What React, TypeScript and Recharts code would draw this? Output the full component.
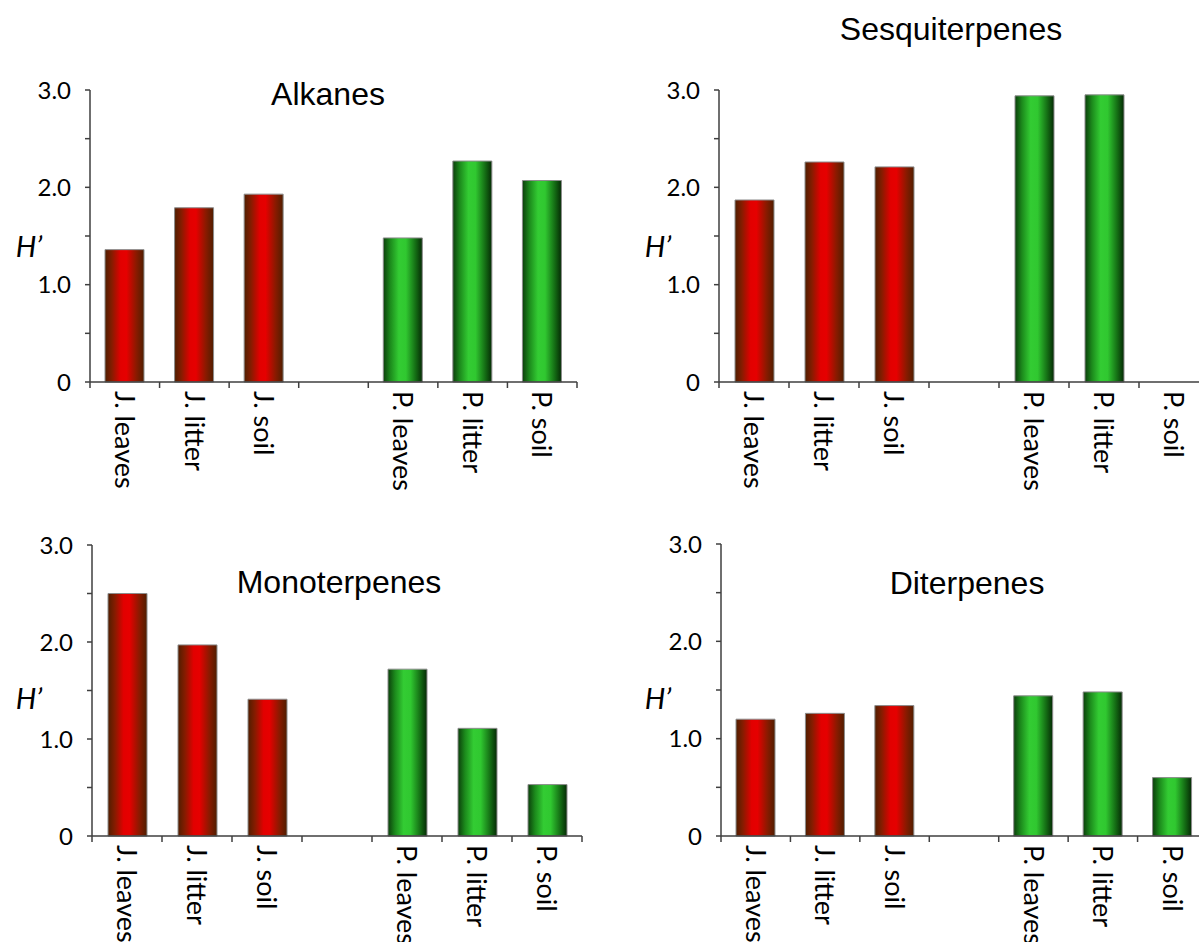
import React from "react";
import { BarChart, Bar, XAxis, YAxis, Cell } from "recharts";

// Categories along the x axis; the empty slot separates the two species groups.
const categories = ["J. leaves", "J. litter", "J. soil", "", "P. leaves", "P. litter", "P. soil"];
const groups = ["J", "J", "J", "", "P", "P", "P"];

// Shannon diversity (H') per compound class
const alkanes = [1.36, 1.79, 1.93, null, 1.48, 2.27, 2.07];
const sesquiterpenes = [1.87, 2.26, 2.21, null, 2.94, 2.95, 0];
const monoterpenes = [2.5, 1.97, 1.41, null, 1.72, 1.11, 0.53];
const diterpenes = [1.2, 1.26, 1.34, null, 1.44, 1.48, 0.6];

const yTicks = [0, 0.5, 1, 1.5, 2, 2.5, 3];

const AXIS = "#3f3f3f";
const LABEL_FONT = "Lato, 'Open Sans', sans-serif";
const TITLE_FONT = "'Liberation Sans', Arial, sans-serif";

const fmtY = (v: number) => (v === 0 ? "0" : Number.isInteger(v) ? v.toFixed(1) : "");

type TickProps = { x?: number; y?: number; payload?: { value: string }; index?: number; cw: number; count: number };

function CategoryTick({ x = 0, y = 0, payload, index = 0, cw, count }: TickProps) {
  const left = x - cw / 2;
  const right = x + cw / 2;
  return (
    <g>
      <line x1={left} y1={y} x2={left} y2={y + 6} stroke={AXIS} strokeWidth={1.5} />
      {index === count - 1 && <line x1={right} y1={y} x2={right} y2={y + 6} stroke={AXIS} strokeWidth={1.5} />}
      <text
        transform={`translate(${x},${y + 9}) rotate(90)`}
        x={0}
        y={0}
        dy="0.36em"
        textAnchor="start"
        fontSize={27}
        fontFamily={LABEL_FONT}
        fill="#000"
      >
        {payload ? payload.value : ""}
      </text>
    </g>
  );
}

type PanelProps = {
  id: string;
  values: (number | null)[];
  left: number;
  top: number;
  axisX: number;
  plotTop: number;
  plotBottom: number;
  plotWidth: number;
};

function Panel({ id, values, left, top, axisX, plotTop, plotBottom, plotWidth }: PanelProps) {
  const data = categories.map((name, i) => ({ name, v: values[i], g: groups[i] }));
  const xH = 130;
  const width = axisX + plotWidth + 10;
  const height = plotBottom + xH;
  const cw = plotWidth / categories.length;
  return (
    <div style={{ position: "absolute", left, top, width, height }}>
      <BarChart width={width} height={height} data={data} margin={{ top: plotTop, right: 10, left: 0, bottom: 0 }}>
        <defs>
          <linearGradient id={`red-${id}`} x1="0" y1="0" x2="1" y2="0">
            <stop offset="0%" stopColor="#4f1e00" />
            <stop offset="18%" stopColor="#861c00" />
            <stop offset="40%" stopColor="#e20000" />
            <stop offset="55%" stopColor="#e60000" />
            <stop offset="80%" stopColor="#8a1a00" />
            <stop offset="100%" stopColor="#4f1e00" />
          </linearGradient>
          <linearGradient id={`green-${id}`} x1="0" y1="0" x2="1" y2="0">
            <stop offset="0%" stopColor="#0b3f0b" />
            <stop offset="18%" stopColor="#1c8a1c" />
            <stop offset="40%" stopColor="#33cc33" />
            <stop offset="58%" stopColor="#30c830" />
            <stop offset="82%" stopColor="#157015" />
            <stop offset="100%" stopColor="#052a05" />
          </linearGradient>
        </defs>
        <XAxis
          dataKey="name"
          interval={0}
          height={xH}
          tickLine={false}
          tickSize={0}
          tickMargin={0}
          axisLine={{ stroke: AXIS, strokeWidth: 1.5 }}
          tick={(p: any) => <CategoryTick {...p} cw={cw} count={categories.length} />}
        />
        <YAxis
          width={axisX}
          domain={[0, 3]}
          ticks={yTicks}
          interval={0}
          tickFormatter={fmtY}
          tickSize={5}
          tickMargin={14}
          axisLine={{ stroke: AXIS, strokeWidth: 1.5 }}
          tickLine={{ stroke: AXIS, strokeWidth: 1.5 }}
          tick={{ fontSize: 24, fontFamily: LABEL_FONT, fill: "#000" }}
        />
        <Bar dataKey="v" barSize={39} isAnimationActive={false} stroke="#8c8c8c" strokeWidth={1}>
          {data.map((d, i) => (
            <Cell key={i} fill={d.g === "J" ? `url(#red-${id})` : `url(#green-${id})`} />
          ))}
        </Bar>
      </BarChart>
    </div>
  );
}

function Label({ x, y, size, font, italic, children }: { x: number; y: number; size: number; font: string; italic?: boolean; children: React.ReactNode }) {
  return (
    <div
      style={{
        position: "absolute",
        left: x,
        top: y,
        transform: "translate(-50%, -50%)",
        fontSize: size,
        fontFamily: font,
        fontStyle: italic ? "italic" : "normal",
        lineHeight: 1,
        whiteSpace: "nowrap",
        color: "#000",
      }}
    >
      {children}
    </div>
  );
}

export default function App() {
  return (
    <div style={{ position: "absolute", left: 0, top: 0, width: 1199, height: 942, overflow: "hidden", background: "#fff" }}>
      <Panel id="alk" values={alkanes} left={0} top={0} axisX={90} plotTop={90} plotBottom={382} plotWidth={487} />
      <Panel id="ses" values={sesquiterpenes} left={620} top={0} axisX={99} plotTop={90} plotBottom={382} plotWidth={490} />
      <Panel id="mon" values={monoterpenes} left={0} top={460} axisX={92} plotTop={85} plotBottom={376} plotWidth={490} />
      <Panel id="dit" values={diterpenes} left={620} top={460} axisX={101} plotTop={84} plotBottom={376} plotWidth={486} />

      <Label x={328} y={94} size={32} font={TITLE_FONT}>Alkanes</Label>
      <Label x={951} y={29} size={32} font={TITLE_FONT}>Sesquiterpenes</Label>
      <Label x={339} y={582} size={32} font={TITLE_FONT}>Monoterpenes</Label>
      <Label x={967} y={583} size={32} font={TITLE_FONT}>Diterpenes</Label>

      <Label x={29} y={245} size={29} font={LABEL_FONT} italic>H’</Label>
      <Label x={658} y={245} size={29} font={LABEL_FONT} italic>H’</Label>
      <Label x={29} y={697} size={29} font={LABEL_FONT} italic>H’</Label>
      <Label x={658} y={697} size={29} font={LABEL_FONT} italic>H’</Label>
    </div>
  );
}
